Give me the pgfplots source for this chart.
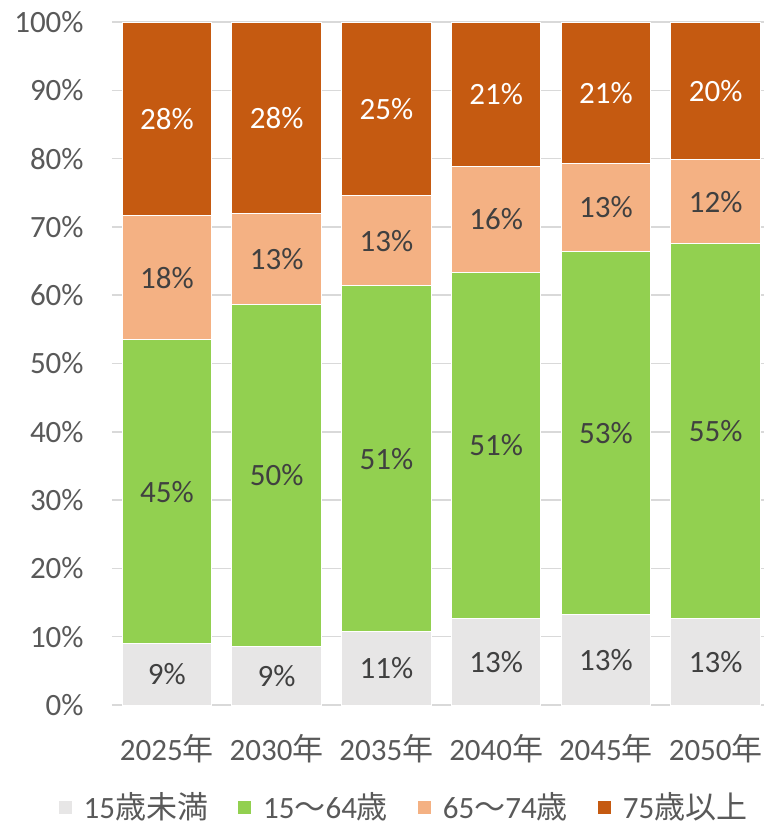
\documentclass[border=0pt]{standalone}
\usepackage{fontspec}
\setmainfont{Carlito}
\newfontfamily\cjk{Noto Sans CJK JP}
\usepackage{pgfplots}
\pgfplotsset{compat=1.18}
\definecolor{cgray}{HTML}{E7E6E6}
\definecolor{cgreen}{HTML}{92D050}
\definecolor{clight}{HTML}{F4B183}
\definecolor{cdark}{HTML}{C55A11}
\definecolor{ticktext}{HTML}{595959}
\definecolor{labtext}{HTML}{404040}
\definecolor{gridc}{HTML}{D9D9D9}
\begin{document}
\begin{tikzpicture}
\begin{axis}[name=ax, at={(0,0)}, anchor=south west,
  scale only axis, width=326pt, height=341.5pt,
  ybar stacked, bar width=0.816,
  xmin=-0.5, xmax=5.44, ymin=0, ymax=100,
  xtick={0,1,2,3,4,5},
  xticklabels={2025{\cjk 年},2030{\cjk 年},2035{\cjk 年},2040{\cjk 年},2045{\cjk 年},2050{\cjk 年}},
  ytick={0,10,20,30,40,50,60,70,80,90,100},
  yticklabels={0\%,10\%,20\%,30\%,40\%,50\%,60\%,70\%,80\%,90\%,100\%},
  major tick length=0pt,
  axis line style={draw=none},
  ymajorgrids, grid style={gridc, line width=0.75pt},
  tick label style={font=\fontsize{15.5}{18}\selectfont, text=ticktext, inner sep=0pt},
  yticklabel style={xshift=-14pt},
  xticklabel style={yshift=-14.5pt},
  clip=false,
  legend columns=4,
  legend style={draw=none, at={(0.4486,-0.150)}, anchor=center,
    font=\fontsize{15.5}{18}\selectfont, text=ticktext,
    /tikz/every odd column/.append style={column sep=3.5pt},
    /tikz/every even column/.append style={column sep=12.5pt}},
  legend image code/.code={\fill[#1] (0pt,-3.5pt) rectangle (7pt,3.5pt);},
  point meta=explicit symbolic,
  nodes near coords,
  every node near coord/.append style={anchor=center, font=\fontsize{15.5}{18}\selectfont, text=labtext},
]
\addplot[fill=cgray, draw=white, line width=0.5pt] coordinates {
  (0,9.0) [9\%] (1,8.6) [9\%] (2,10.7) [11\%] (3,12.7) [13\%] (4,13.2) [13\%] (5,12.6) [13\%]};
\addplot[fill=cgreen, draw=white, line width=0.5pt] coordinates {
  (0,44.5) [45\%] (1,50.1) [50\%] (2,50.7) [51\%] (3,50.6) [51\%] (4,53.2) [53\%] (5,54.9) [55\%]};
\addplot[fill=clight, draw=white, line width=0.5pt] coordinates {
  (0,18.1) [18\%] (1,13.2) [13\%] (2,13.2) [13\%] (3,15.6) [16\%] (4,12.9) [13\%] (5,12.4) [12\%]};
\addplot[fill=cdark, draw=white, line width=0.5pt,
  every node near coord/.append style={text=white}] coordinates {
  (0,28.4) [28\%] (1,28.1) [28\%] (2,25.4) [25\%] (3,21.1) [21\%] (4,20.7) [21\%] (5,20.1) [20\%]};
\legend{15{\cjk 歳未満},15{\cjk ～}64{\cjk 歳},65{\cjk ～}74{\cjk 歳},75{\cjk 歳以上}}
\end{axis}
\pgfresetboundingbox
\path[use as bounding box] ([shift={(-56pt,-60.5pt)}]ax.south west) rectangle ([shift={(0pt,11pt)}]ax.north east);
\end{tikzpicture}
\end{document}
